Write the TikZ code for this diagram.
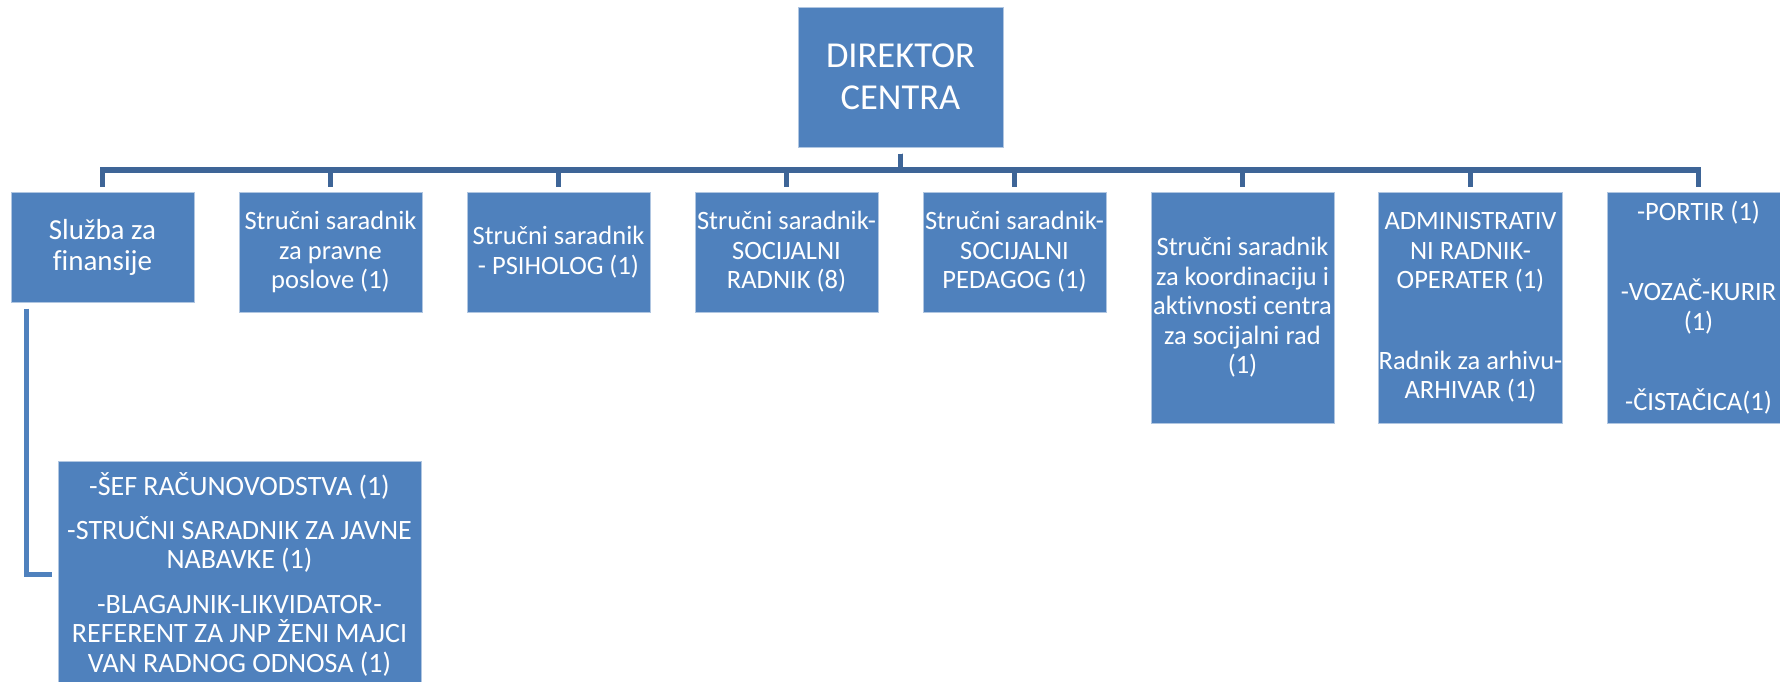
\documentclass[tikz,border=0pt]{standalone}
\usepackage{fontspec}
\setmainfont{Carlito}[Ligatures={NoCommon,NoContextual}]
\usepackage{tikz}

\definecolor{boxblue}{RGB}{79,129,189}
\definecolor{lineblue}{RGB}{62,101,151}

\begin{document}
\begin{tikzpicture}[x=1pt,y=-1pt]

	\tikzstyle box=[fill=boxblue, draw=white!55!boxblue, line width=1pt, text=white, inner sep=0pt, align=center, minimum width=183pt, font=\fontsize{26.5}{29.5}\selectfont];
	\tikzstyle short box=[box, minimum height=120pt];
	\tikzstyle tall box=[box, minimum height=231pt];
	\tikzstyle links=[lineblue, line width=5.5pt, shorten <=6pt, shorten >=5pt];
	\tikzstyle sub link=[boxblue, line width=5pt, shorten <=6pt, shorten >=6pt];

	\useasboundingbox (0,0) rectangle (1780,681);

	\node[box, minimum width=205pt, minimum height=140pt, font=\fontsize{36.5}{42}\selectfont] (director) at (900.5,77) {DIREKTOR\\CENTRA};

	\node[box, minimum height=110pt, font=\fontsize{29}{31}\selectfont] (finansije) at (102.5,247) {Služba za\\finansije};
	\node[short box] (pravnik) at (330.5,252) {Stručni saradnik\\za pravne\\poslove (1)};
	\node[short box] (psiholog) at (558.5,252) {Stručni saradnik\\- PSIHOLOG (1)};
	\node[short box] (socradnik) at (786.5,252) {Stručni saradnik-\\SOCIJALNI\\RADNIK (8)};
	\node[short box] (pedagog) at (1014.5,252) {Stručni saradnik-\\SOCIJALNI\\PEDAGOG (1)};
	\node[tall box] (koordinator) at (1242.5,307.5) {Stručni saradnik\\za koordinaciju i\\aktivnosti centra\\za socijalni rad\\(1)};
	\node[tall box] (administrator) at (1470.5,307.5) {ADMINISTRATIV\\NI RADNIK-\\OPERATER (1)\\[51pt]Radnik za arhivu-\\ARHIVAR (1)};
	\node[tall box] (pomocni) at (1698.5,307.5) {-PORTIR (1)\\[50.5pt]-VOZAČ-KURIR\\(1)\\[50.5pt]-ČISTAČICA(1)};

	\node[box, minimum width=363pt, minimum height=226pt, font=\fontsize{28}{29.5}\selectfont] (racunovodstvo) at (239.5,574) {-ŠEF RAČUNOVODSTVA (1)\\[14.5pt]-STRUČNI SARADNIK ZA JAVNE\\NABAVKE (1)\\[15pt]-BLAGAJNIK-LIKVIDATOR-\\REFERENT ZA JNP ŽENI MAJCI\\VAN RADNOG ODNOSA (1)};

	\coordinate (bus) at (0,170);
	\foreach \n in {finansije,pravnik,psiholog,socradnik,pedagog,koordinator,administrator,pomocni}
		\draw[links] (director.south) -- (director.south |- bus) -| (\n.north);

	\draw[sub link] ([xshift=16pt]finansije.south west) |- (racunovodstvo.west);

\end{tikzpicture}
\end{document}
